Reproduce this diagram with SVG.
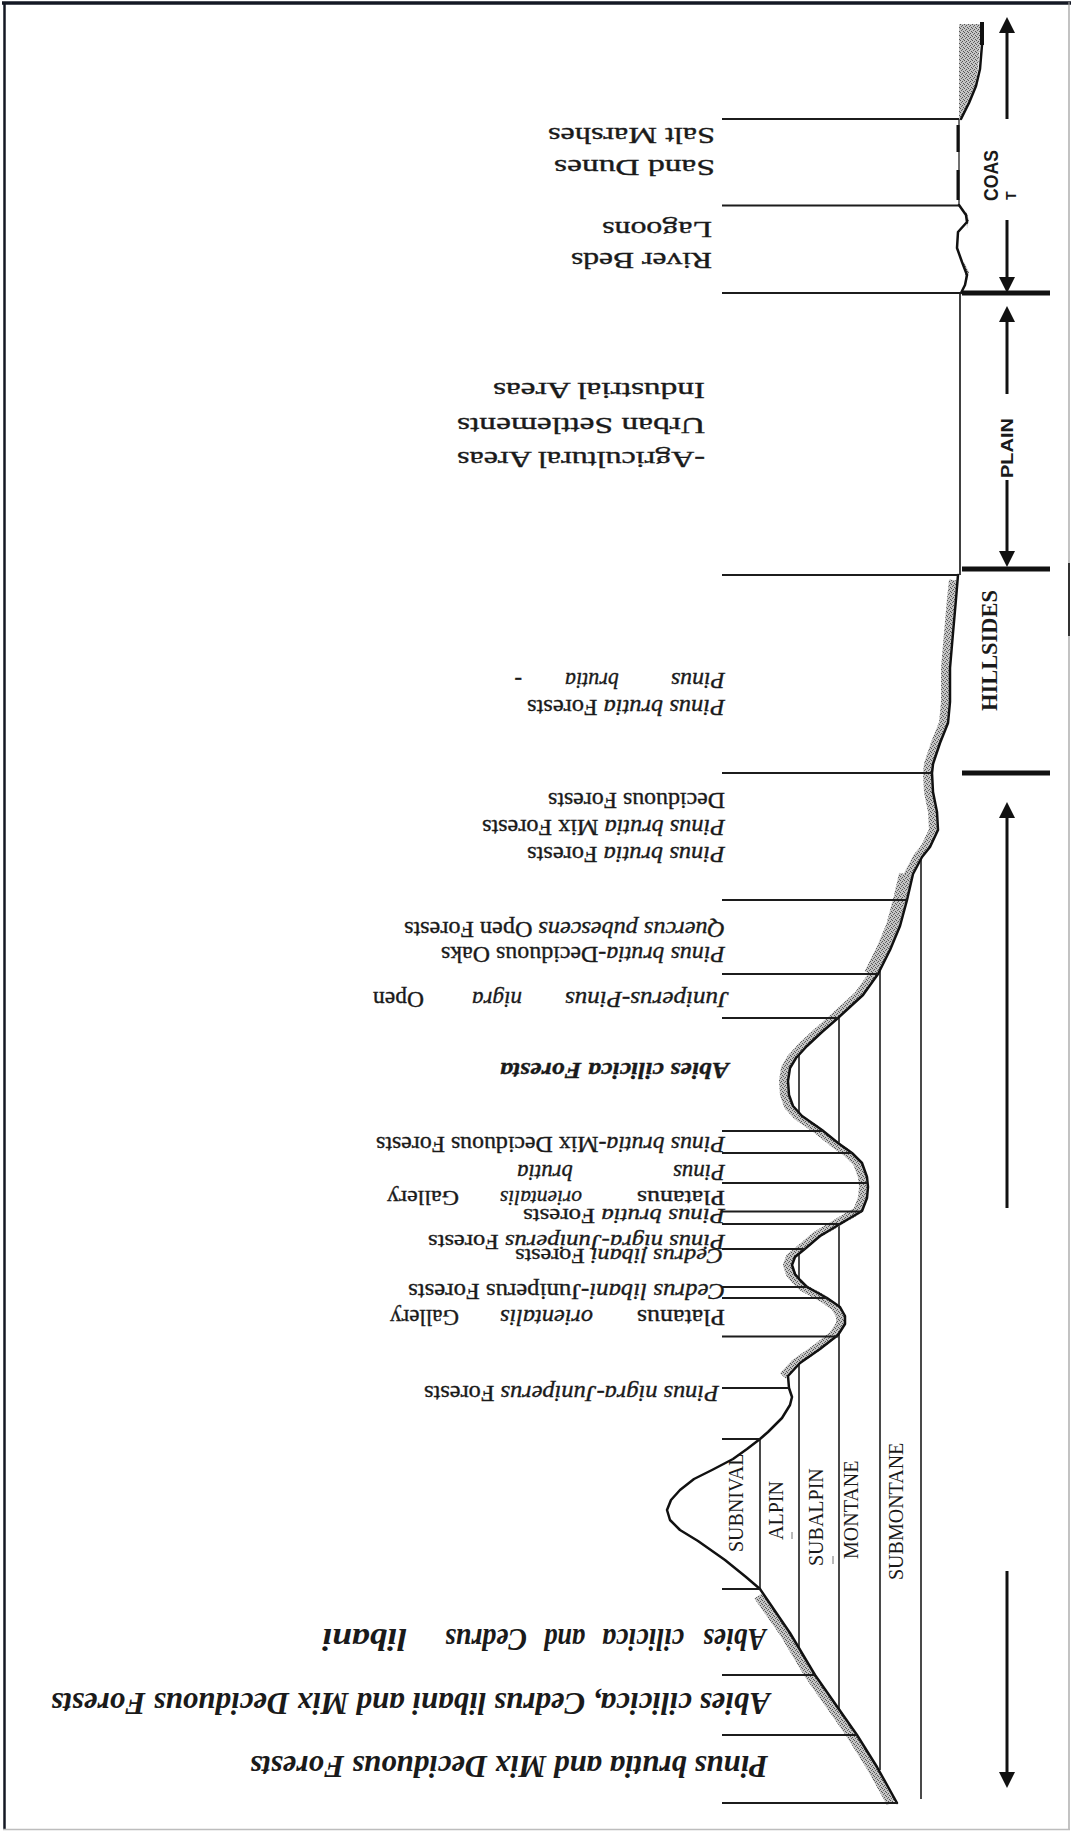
<svg xmlns="http://www.w3.org/2000/svg" width="1073" height="1831" viewBox="0 0 1073 1831">
<style>
.lbl{font-family:"Liberation Serif","Times New Roman",serif;font-size:22.5px;fill:#1a1a1a;stroke:#1a1a1a;stroke-width:0.35}
.sm{font-size:20.5px}
.it{font-style:italic}
.bi{font-family:"Liberation Serif","Times New Roman",serif;font-weight:bold;font-style:italic;fill:#1a1a1a}
.zone{font-family:"Liberation Serif","Times New Roman",serif;font-size:20px;fill:#1a1a1a}
.side{font-family:"Liberation Sans",Arial,sans-serif;font-weight:bold;fill:#1a1a1a}
.ln{stroke:#1c1c1c;stroke-width:2;fill:none}
.zl{stroke:#1c1c1c;stroke-width:1.6;fill:none}
.tick{stroke:#111;stroke-width:5;fill:none}
.arr{stroke:#111;stroke-width:3;fill:none;marker-end:url(#ah)}
.prof{stroke:#111;stroke-width:2.5;fill:none;stroke-linejoin:round;stroke-linecap:round}
.shade{stroke:url(#speck);fill:none;stroke-linejoin:round}
</style>
<defs>
<pattern id="speck" width="4" height="4" patternUnits="userSpaceOnUse">
<rect width="4" height="4" fill="#c4c4c4"/>
<rect x="0" y="0" width="1" height="1" fill="#555"/>
<rect x="2" y="1" width="1" height="1" fill="#555"/>
<rect x="1" y="2" width="1" height="1" fill="#666"/>
<rect x="3" y="3" width="1" height="1" fill="#555"/>
</pattern>
<marker id="ah" viewBox="0 0 16 16" refX="2" refY="8" markerWidth="16" markerHeight="16" markerUnits="userSpaceOnUse" orient="auto">
<path d="M0,0 L16,8 L0,16 Z" fill="#111"/>
</marker>
</defs>
<rect width="1073" height="1831" fill="#fff"/>

<g id="zone-lines">
<line class="zl" x1="760" y1="400" x2="760" y2="1589"/>
<line class="zl" x1="799" y1="400" x2="799" y2="1648"/>
<line class="zl" x1="839" y1="400" x2="839" y2="1709"/>
<line class="zl" x1="880" y1="400" x2="880" y2="1770"/>
<line class="zl" x1="921" y1="400" x2="921" y2="1799"/>
</g>

<g id="zone-labels">
<text class="zone" transform="translate(743,1552) rotate(-90)">SUBNIVAL</text>
<text class="zone" transform="translate(783,1540) rotate(-90)">ALPIN</text>
<text class="zone" transform="translate(823,1566) rotate(-90)">SUBALPIN</text>
<text class="zone" transform="translate(858,1559) rotate(-90)">MONTANE</text>
<text class="zone" transform="translate(903,1580) rotate(-90)">SUBMONTANE</text>
<line x1="792" y1="1532" x2="792" y2="1539" stroke="#777" stroke-width="1"/>
<line x1="833" y1="1556" x2="833" y2="1564" stroke="#777" stroke-width="1"/>
</g>

<path id="air" fill="#fff" d="M10,8 L959,8 L959,205 L966,215 L967,222 L958,232 L957,248 L962,262 L967,275 L965,285 L961,293 L960,575 L958,575 L956,599 L953,633 L950,668 L950,702 L948,723 L940,743 L933,764 L932,773 L933,792 L937,812 L938,830 L930,847 L922,857 L913,874 L907,900 L900,926 L890,950 L878,974 L863,995 L838,1018 L822,1032 L807,1046 L796,1058 L790,1068 L788,1081 L789,1095 L793,1106 L802,1116 L822,1130 L838,1143 L852,1153 L862,1163 L867,1177 L868,1187 L867,1198 L862,1211 L850,1218 L840,1224 L820,1236 L806,1248 L795,1257 L792,1265 L795,1274 L800,1280 L807,1287 L827,1298 L840,1307 L845,1316 L845,1324 L838,1335 L820,1349 L800,1363 L788,1376 L789,1388 L792,1397 L790,1405 L782,1418 L768,1432 L760,1439 L747,1449 L733,1459 L712,1470 L694,1479 L680,1490 L671,1500 L667,1510 L670,1520 L680,1530 L698,1541 L725,1560 L746,1577 L760,1589 L790,1633 L815,1675 L857,1735 L877,1767 L897,1803 L897,1812 L10,1812 Z"/>

<g id="profile">
<path class="shade" stroke-width="8" transform="translate(-5,0)" d="M958,580 L956,599 L953,633 L950,668 L950,702 L948,723 L940,743 L933,764 L932,773 L933,792 L937,812 L938,830 L930,847 L922,857 L913,874 L907,900 L900,926 L890,950 L878,974 L863,995 L838,1018 L822,1032 L807,1046 L796,1058 L790,1068 L788,1081 L789,1095 L793,1106 L802,1116 L822,1130 L838,1143 L852,1153 L862,1163 L867,1177 L868,1187 L867,1198 L862,1211 L850,1218 L840,1224 L820,1236 L806,1248 L795,1257 L792,1265 L795,1274 L800,1280 L807,1287 L827,1298 L840,1307 L845,1316 L845,1324 L838,1335 L820,1349 L800,1363 L788,1376"/>
<path class="shade" stroke-width="12" transform="translate(-8,0)" d="M913,874 L907,900 L900,926 L890,950 L878,974"/>
<path class="shade" stroke-width="9" transform="translate(-6,0)" d="M764,1596 L790,1633 L815,1675 L857,1735 L877,1767 L897,1803"/>
<path d="M959,24 L980,24 L980,45 L978,69 L975,86 L968,103 L962,119 L959,119 Z" fill="url(#speck)"/>
<path d="M966,211 L969,220 L967,228 Z M964,262 L969,272 L966,284 Z" fill="url(#speck)"/>
<rect x="980" y="22" width="4" height="23" fill="#111"/>
<path class="prof" stroke-width="1.8" d="M982,45 L980,69 L976,86 L969,103 L961,119"/>
<line x1="959" y1="119" x2="959" y2="205" stroke="#111" stroke-width="1.2"/>
<line x1="958" y1="125" x2="958" y2="152" stroke="#111" stroke-width="3"/>
<line x1="958" y1="170" x2="958" y2="200" stroke="#111" stroke-width="3"/>
<path class="prof" d="M959,205 L966,215 L967,222 L958,232 L957,248 L962,262 L967,275 L965,285 L961,293"/>
<line x1="960" y1="293" x2="960" y2="575" stroke="#111" stroke-width="1.6"/>
<path class="prof" d="M958,575 L956,599 L953,633 L950,668 L950,702 L948,723 L940,743 L933,764 L932,773 L933,792 L937,812 L938,830 L930,847 L922,857 L913,874 L907,900 L900,926 L890,950 L878,974 L863,995 L838,1018 L822,1032 L807,1046 L796,1058 L790,1068 L788,1081 L789,1095 L793,1106 L802,1116 L822,1130 L838,1143 L852,1153 L862,1163 L867,1177 L868,1187 L867,1198 L862,1211 L850,1218 L840,1224 L820,1236 L806,1248 L795,1257 L792,1265 L795,1274 L800,1280 L807,1287 L827,1298 L840,1307 L845,1316 L845,1324 L838,1335 L820,1349 L800,1363 L788,1376 L789,1388 L792,1397 L790,1405 L782,1418 L768,1432 L760,1439 L747,1449 L733,1459 L712,1470 L694,1479 L680,1490 L671,1500 L667,1510 L670,1520 L680,1530 L698,1541 L725,1560 L746,1577 L760,1589 L790,1633 L815,1675 L857,1735 L877,1767 L897,1803"/>
</g>

<g id="connectors">
<line class="ln" x1="722" y1="119" x2="959" y2="119"/>
<line class="ln" x1="722" y1="205.5" x2="959" y2="205.5"/>
<line class="ln" x1="722" y1="293" x2="961" y2="293"/>
<line class="ln" x1="722" y1="575" x2="958" y2="575"/>
<line class="ln" x1="722" y1="773" x2="932" y2="773"/>
<line class="ln" x1="722" y1="900" x2="907" y2="900"/>
<line class="ln" x1="722" y1="974" x2="878" y2="974"/>
<line class="ln" x1="722" y1="1018" x2="838" y2="1018"/>
<line class="ln" x1="722" y1="1131" x2="823" y2="1131"/>
<line class="ln" x1="722" y1="1153" x2="852" y2="1153"/>
<line class="ln" x1="722" y1="1183" x2="867" y2="1183"/>
<line class="ln" x1="722" y1="1211.5" x2="862" y2="1211.5"/>
<line class="ln" x1="722" y1="1224" x2="840" y2="1224"/>
<line class="ln" x1="722" y1="1249" x2="806" y2="1249"/>
<line class="ln" x1="722" y1="1287" x2="807" y2="1287"/>
<line class="ln" x1="722" y1="1298" x2="827" y2="1298"/>
<line class="ln" x1="722" y1="1336.5" x2="838" y2="1336.5"/>
<line class="ln" x1="722" y1="1388" x2="789" y2="1388"/>
<line class="ln" x1="722" y1="1439" x2="760" y2="1439"/>
<line class="ln" x1="722" y1="1589" x2="760" y2="1589"/>
<line class="ln" x1="722" y1="1675" x2="815" y2="1675"/>
<line class="ln" x1="722" y1="1735" x2="857" y2="1735"/>
<line class="ln" x1="722" y1="1803" x2="897" y2="1803"/>
<line class="tick" x1="962" y1="293" x2="1050" y2="293"/>
<line class="tick" x1="962" y1="569" x2="1050" y2="569"/>
<line class="tick" x1="962" y1="773" x2="1050" y2="773"/>
<line class="arr" x1="1007" y1="119" x2="1007" y2="31"/>
<line class="arr" x1="1007" y1="220" x2="1007" y2="279"/>
<line class="arr" x1="1007" y1="394" x2="1007" y2="320"/>
<line class="arr" x1="1007" y1="480" x2="1007" y2="553"/>
<line class="arr" x1="1007" y1="1208" x2="1007" y2="816"/>
<line class="arr" x1="1007" y1="1571" x2="1007" y2="1774"/>
</g>

<g id="section-labels">
<text class="side" font-size="20" textLength="51" lengthAdjust="spacingAndGlyphs" transform="translate(998,201) rotate(-90)">COAS</text>
<text class="side" font-size="14" transform="translate(1016,200) rotate(-90)">T</text>
<text class="side" font-size="16" textLength="60" lengthAdjust="spacingAndGlyphs" transform="translate(1013,478) rotate(-90)">PLAIN</text>
<text class="bi" font-size="22.4" textLength="121" lengthAdjust="spacingAndGlyphs" transform="translate(997,711) rotate(-90)" style="font-style:normal">HILLSIDES</text>
</g>

<g id="coast-labels" class="lbl">
<g id="salt-marshes" transform="translate(715,128) rotate(180)"><text textLength="167" lengthAdjust="spacingAndGlyphs">Salt Marshes</text></g>
<g id="sand-dunes" transform="translate(715,160) rotate(180)"><text textLength="161" lengthAdjust="spacingAndGlyphs">Sand Dunes</text></g>
<g id="lagoons" transform="translate(712,222) rotate(180)"><text textLength="110" lengthAdjust="spacingAndGlyphs">Lagoons</text></g>
<g id="river-beds" transform="translate(712,253) rotate(180)"><text textLength="141" lengthAdjust="spacingAndGlyphs">River Beds</text></g>
</g>

<g id="plain-labels" class="lbl">
<g id="industrial" transform="translate(705,383) rotate(180)"><text textLength="212" lengthAdjust="spacingAndGlyphs">Industrial Areas</text></g>
<g id="urban" transform="translate(705,418) rotate(180)"><text textLength="248" lengthAdjust="spacingAndGlyphs">Urban Settlements</text></g>
<g id="agricultural" transform="translate(705,452) rotate(180)"><text textLength="248" lengthAdjust="spacingAndGlyphs">-Agricultural Areas</text></g>
</g>

<g id="hillside-labels" class="lbl">
<g id="hs-pb-forests" transform="translate(725,700) rotate(180)"><text textLength="198" lengthAdjust="spacingAndGlyphs"><tspan class="it">Pinus brutia</tspan> Forests</text></g>
<g id="hs-pb" transform="translate(725,673) rotate(180)"><text class="it" x="0" textLength="54" lengthAdjust="spacingAndGlyphs">Pinus</text><text class="it" x="106" textLength="54" lengthAdjust="spacingAndGlyphs">brutia</text><text x="203">-</text></g>
</g>

<g id="mountain-labels" class="lbl">
<g id="deciduous" transform="translate(725,793) rotate(180)"><text textLength="177" lengthAdjust="spacingAndGlyphs">Deciduous Forests</text></g>
<g id="pb-mix" transform="translate(725,820) rotate(180)"><text textLength="243" lengthAdjust="spacingAndGlyphs"><tspan class="it">Pinus brutia</tspan> Mix Forests</text></g>
<g id="pb-forests" transform="translate(725,847) rotate(180)"><text textLength="198" lengthAdjust="spacingAndGlyphs"><tspan class="it">Pinus brutia</tspan> Forests</text></g>
<g id="quercus" transform="translate(725,922) rotate(180)"><text textLength="321" lengthAdjust="spacingAndGlyphs"><tspan class="it">Quercus pubescens</tspan> Open Forests</text></g>
<g id="pb-oaks" transform="translate(725,947) rotate(180)"><text textLength="284" lengthAdjust="spacingAndGlyphs"><tspan class="it">Pinus brutia</tspan>-Deciduous Oaks</text></g>
<g id="juniperus-open" transform="translate(729,992) rotate(180)"><text class="it" x="0" textLength="164" lengthAdjust="spacingAndGlyphs">Juniperus-Pinus</text><text class="it" x="207" textLength="50" lengthAdjust="spacingAndGlyphs">nigra</text><text x="305" textLength="51" lengthAdjust="spacingAndGlyphs">Open</text></g>
<g id="abies-foresta" transform="translate(729,1063) rotate(180)"><text class="bi" font-size="23.6" textLength="229" lengthAdjust="spacingAndGlyphs">Abies cilicica Foresta</text></g>
<g id="pb-mix-dec" transform="translate(725,1137) rotate(180)"><text textLength="349" lengthAdjust="spacingAndGlyphs"><tspan class="it">Pinus brutia</tspan>-Mix Deciduous Forests</text></g>
<g id="pb-2" transform="translate(725,1165) rotate(180)"><text class="it" x="0" textLength="52" lengthAdjust="spacingAndGlyphs">Pinus</text><text class="it" x="152" textLength="56" lengthAdjust="spacingAndGlyphs">brutia</text></g>
<g id="platanus-1" class="sm" transform="translate(725,1191) rotate(180)"><text x="0" textLength="88" lengthAdjust="spacingAndGlyphs">Platanus</text><text class="it" x="143" textLength="82" lengthAdjust="spacingAndGlyphs">orientalis</text><text x="266" textLength="72" lengthAdjust="spacingAndGlyphs">Gallery</text></g>
<g id="pb-forests-2" class="sm" transform="translate(725,1209) rotate(180)"><text textLength="202" lengthAdjust="spacingAndGlyphs"><tspan class="it">Pinus brutia</tspan> Forests</text></g>
<g id="pn-jun-1" class="sm" transform="translate(725,1235) rotate(180)"><text textLength="297" lengthAdjust="spacingAndGlyphs"><tspan class="it">Pinus nigra-Juniperus</tspan> Forests</text></g>
<g id="cedrus-forests" class="sm" transform="translate(723,1249) rotate(180)"><text textLength="208" lengthAdjust="spacingAndGlyphs"><tspan class="it">Cedrus libani</tspan> Forests</text></g>
<g id="cedrus-jun" transform="translate(725,1284) rotate(180)"><text textLength="317" lengthAdjust="spacingAndGlyphs"><tspan class="it">Cedrus libani</tspan>-Juniperus Forests</text></g>
<g id="platanus-2" transform="translate(725,1310) rotate(180)"><text x="0" textLength="88" lengthAdjust="spacingAndGlyphs">Platanus</text><text class="it" x="132" textLength="93" lengthAdjust="spacingAndGlyphs">orientalis</text><text x="266" textLength="69" lengthAdjust="spacingAndGlyphs">Gallery</text></g>
<g id="pn-jun-2" transform="translate(719,1386) rotate(180)"><text textLength="295" lengthAdjust="spacingAndGlyphs"><tspan class="it">Pinus nigra-Juniperus</tspan> Forests</text></g>
</g>

<g id="bottom-labels">
<g id="abies-cedrus" transform="translate(766,1629) rotate(180)"><text class="bi" font-size="31" x="0" textLength="63" lengthAdjust="spacingAndGlyphs">Abies</text><text class="bi" font-size="31" x="82" textLength="82" lengthAdjust="spacingAndGlyphs">cilicica</text><text class="bi" font-size="31" x="181" textLength="41" lengthAdjust="spacingAndGlyphs">and</text><text class="bi" font-size="31" x="239" textLength="82" lengthAdjust="spacingAndGlyphs">Cedrus</text><text class="bi" font-size="31" x="359" textLength="85" lengthAdjust="spacingAndGlyphs">libani</text></g>
<g id="abies-cedrus-mix" transform="translate(770,1693) rotate(180)"><text class="bi" font-size="31" textLength="719" lengthAdjust="spacingAndGlyphs">Abies cilicica, Cedrus libani and Mix Deciduous Forests</text></g>
<g id="pinus-mix" transform="translate(768,1756) rotate(180)"><text class="bi" font-size="31" textLength="518" lengthAdjust="spacingAndGlyphs">Pinus brutia and Mix Deciduous Forests</text></g>
</g>

<g id="border">
<line x1="2" y1="3" x2="1071" y2="3" stroke="#141824" stroke-width="3.5"/>
<line x1="4.5" y1="2" x2="4.5" y2="1830" stroke="#141824" stroke-width="2.5"/>
<line x1="1069" y1="2" x2="1069" y2="1830" stroke="#9a9a9a" stroke-width="1.2"/>
<line x1="1069" y1="563" x2="1069" y2="636" stroke="#333" stroke-width="2"/>
<line x1="3" y1="1829.5" x2="1070" y2="1829.5" stroke="#bdbdbd" stroke-width="1.5"/>
</g>
</svg>
